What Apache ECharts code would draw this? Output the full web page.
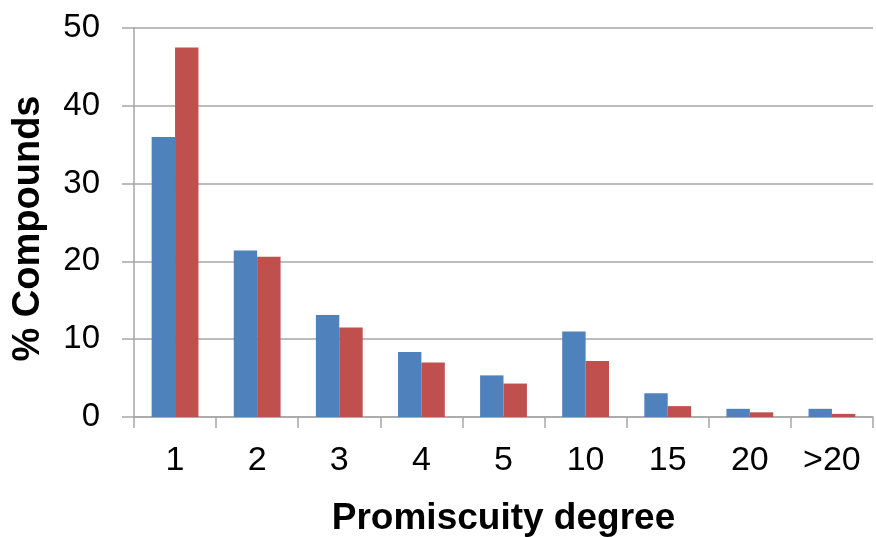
<!DOCTYPE html>
<html>
<head>
<meta charset="utf-8">
<script src="https://cdn.jsdelivr.net/npm/echarts@6/dist/echarts.min.js"></script>
<style>
  html, body { margin: 0; padding: 0; background: #ffffff; }
  #chart { width: 876px; height: 537px; }
</style>
</head>
<body>
<div id="chart"></div>
<script>
// Promiscuity degree categories and the share of compounds in each
const categories = ['1', '2', '3', '4', '5', '10', '15', '20', '>20'];
const seriesA = [36.0, 21.4, 13.1, 8.35, 5.35, 11.0, 3.05, 1.05, 1.05];
const seriesB = [47.5, 20.6, 11.5, 7.0, 4.3, 7.2, 1.4, 0.6, 0.4];
const yTicks = { min: 0, max: 50, interval: 10 };

const chart = echarts.init(document.getElementById('chart'), null, { renderer: 'canvas' });

const gridGray = '#a6a6a6';
const font = 'Liberation Sans, Arial, sans-serif';

chart.setOption({
  animation: false,
  backgroundColor: '#ffffff',
  grid: { left: 134, right: 3, top: 28, bottom: 120, containLabel: false, outerBoundsMode: 'none' },
  xAxis: {
    type: 'category',
    data: categories,
    axisLine: { show: true, lineStyle: { color: gridGray, width: 1.5 } },
    axisTick: { show: true, length: 11, lineStyle: { color: gridGray, width: 1.5 } },
    axisLabel: { color: '#000', fontSize: 34, fontFamily: font, margin: 27 },
    name: 'Promiscuity degree',
    nameLocation: 'middle',
    nameGap: 83,
    nameTextStyle: { color: '#000', fontSize: 37, fontWeight: 'bold', fontFamily: font }
  },
  yAxis: {
    type: 'value',
    min: yTicks.min,
    max: yTicks.max,
    interval: yTicks.interval,
    axisLine: { show: true, lineStyle: { color: gridGray, width: 1.5 } },
    axisTick: { show: true, length: 12, lineStyle: { color: gridGray, width: 1.5 } },
    splitLine: { show: true, lineStyle: { color: gridGray, width: 1.5 } },
    axisLabel: { color: '#000', fontSize: 33, fontFamily: font, margin: 34 },
    name: '% Compounds',
    nameLocation: 'middle',
    nameGap: 86,
    nameTextStyle: { color: '#000', fontSize: 38, fontWeight: 'bold', fontFamily: font, padding: [0, 12, 0, 0] }
  },
  series: [
    {
      type: 'bar',
      data: seriesA,
      itemStyle: { color: '#4f81bd' },
      barGap: '0%',
      barCategoryGap: '43%'
    },
    {
      type: 'bar',
      data: seriesB,
      itemStyle: { color: '#c0504d' },
      barGap: '0%',
      barCategoryGap: '43%'
    }
  ]
});
</script>
</body>
</html>
